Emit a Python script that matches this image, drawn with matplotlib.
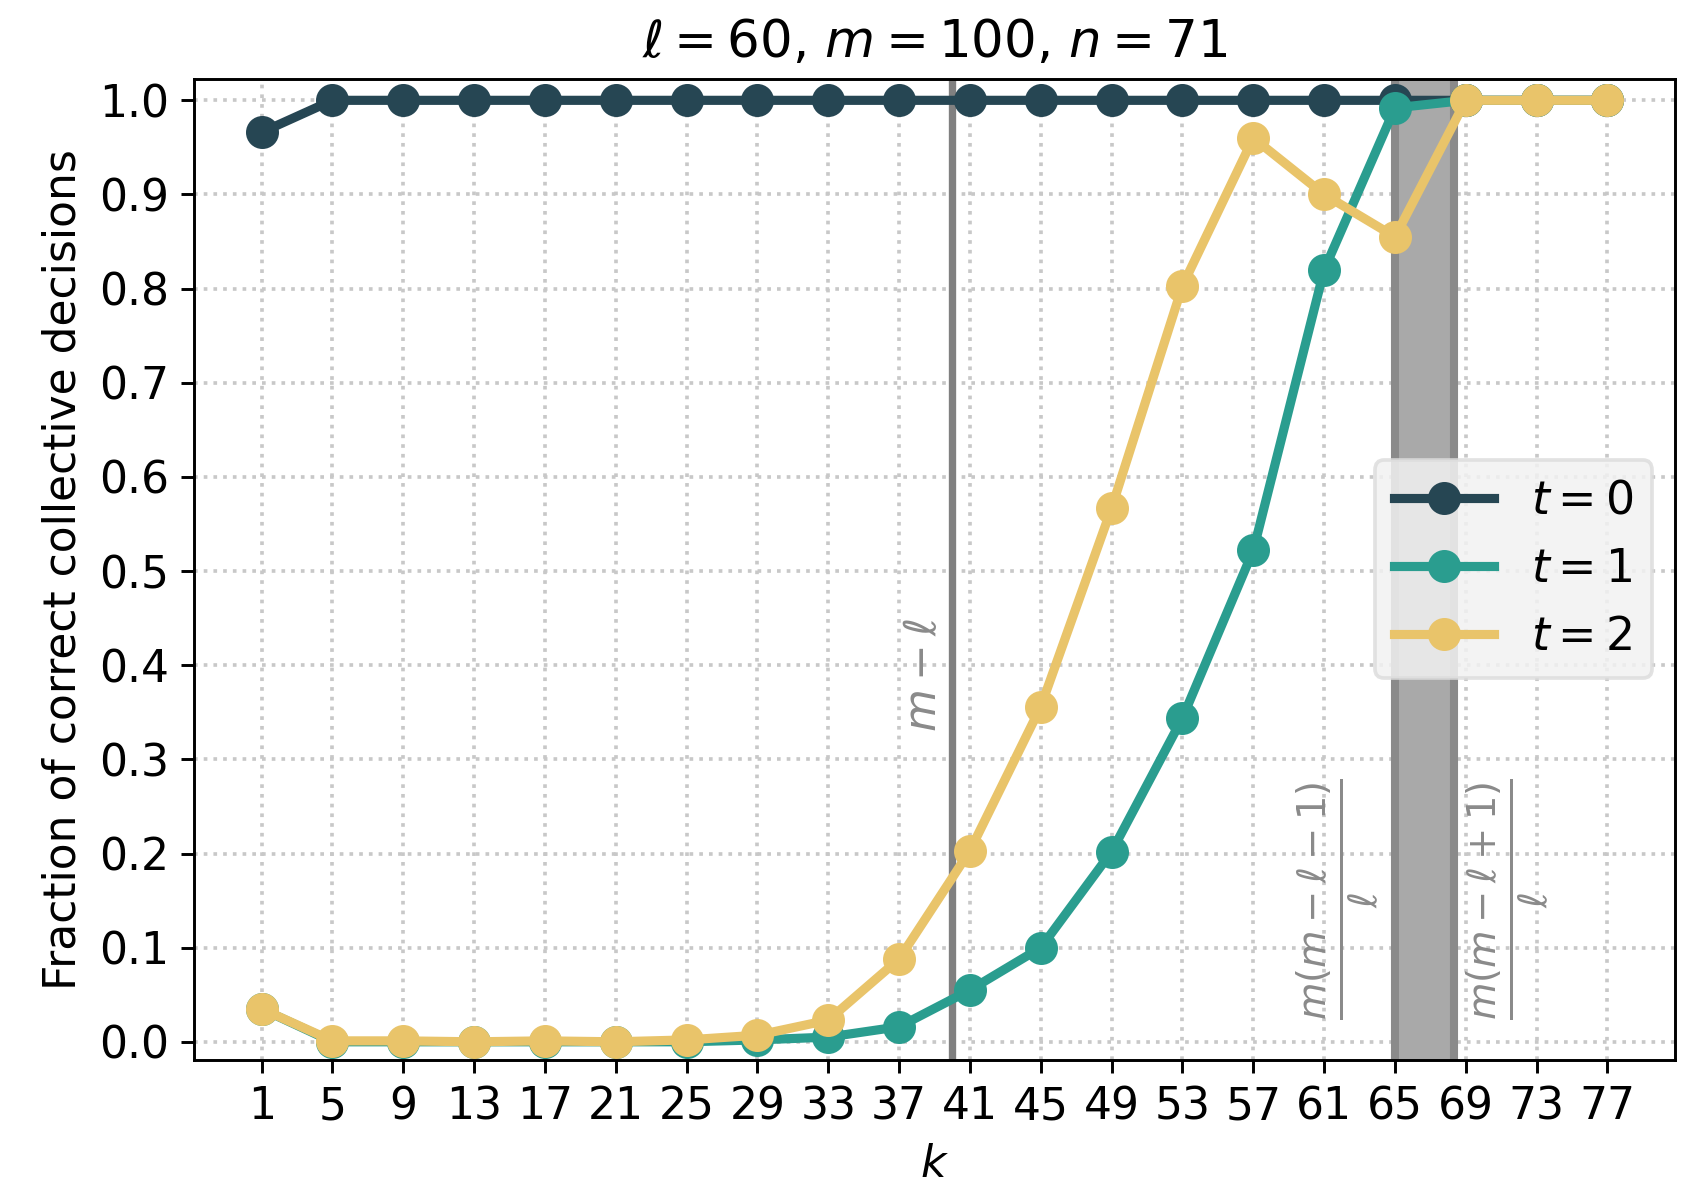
import numpy as np
import matplotlib
matplotlib.use('Agg')
import matplotlib.pyplot as plt

k_vals = [1, 5, 9, 13, 17, 21, 25, 29, 33, 37, 41, 45, 49, 53, 57, 61, 65, 69, 73, 77]
frac_t0 = [0.966, 1.0, 1.0, 1.0, 1.0, 1.0, 1.0, 1.0, 1.0, 1.0,
           1.0, 1.0, 1.0, 1.0, 1.0, 1.0, 1.0, 1.0, 1.0, 1.0]
frac_t1 = [0.035, 0.0, 0.0, 0.0, 0.0, 0.0, 0.0, 0.002, 0.005, 0.016,
           0.055, 0.100, 0.202, 0.344, 0.522, 0.820, 0.992, 1.0, 1.0, 1.0]
frac_t2 = [0.035, 0.001, 0.001, 0.0, 0.001, 0.0, 0.002, 0.007, 0.023, 0.088,
           0.203, 0.356, 0.567, 0.803, 0.960, 0.900, 0.855, 1.0, 1.0, 1.0]
labels = ['$t = 0$', '$t = 1$', '$t = 2$']
colors = ['#264653', '#2a9d8f', '#e9c46a']

ell, m, n = 60, 100, 71
k_line = m - ell
k_lo = m * (m - ell - 1) / ell
k_hi = m * (m - ell + 1) / ell

plt.rcParams['font.size'] = 12

fig = plt.figure(figsize=(1690 / 264, 1192 / 264), dpi=264)
ax = fig.add_axes([0.115, 0.111, 0.876, 0.823])

for y, lab, c in zip([frac_t0, frac_t1, frac_t2], labels, colors):
    ax.plot(k_vals, y, '-o', color=c, lw=2.5, ms=8, label=lab, zorder=3)

ax.axvline(k_line, color='#808080', lw=2, zorder=2)
ax.axvspan(k_lo, k_hi, color='#a9a9a9', zorder=1, lw=0)
ax.axvline(k_lo, color='#8a8a8a', lw=2.2, zorder=1)
ax.axvline(k_hi, color='#8a8a8a', lw=2.2, zorder=1)

ax.text(k_line - 1.6, 0.39, r'$m - \ell$', rotation=90, color='#8a8a8a',
        ha='center', va='center', fontsize=12)
ax.text(k_lo - 3.2, 0.152, r'$\frac{m(m-\ell-1)}{\ell}$', rotation=90,
        color='#8a8a8a', ha='center', va='center', fontsize=15)
ax.text(k_hi + 3.1, 0.152, r'$\frac{m(m-\ell+1)}{\ell}$', rotation=90,
        color='#8a8a8a', ha='center', va='center', fontsize=15)

ax.set_xticks(k_vals)
ax.set_yticks(np.arange(0, 1.01, 0.1))
ax.set_xlim(-2.8, 80.8)
ax.set_ylim(-0.019, 1.023)
ax.grid(True, ls=':', color='#c8c8c8', lw=1)
ax.set_axisbelow(True)
ax.set_xlabel('$k$')
ax.set_ylabel('Fraction of correct collective decisions')
ax.set_title(r'$\ell = 60$, $m = 100$, $n = 71$', fontsize=14)

leg = ax.legend(loc='center right', fontsize=12.5, handlelength=2.2,
                facecolor='#f2f2f2', framealpha=0.85, edgecolor='#dddddd')

fig.savefig('out.png', dpi=264)
